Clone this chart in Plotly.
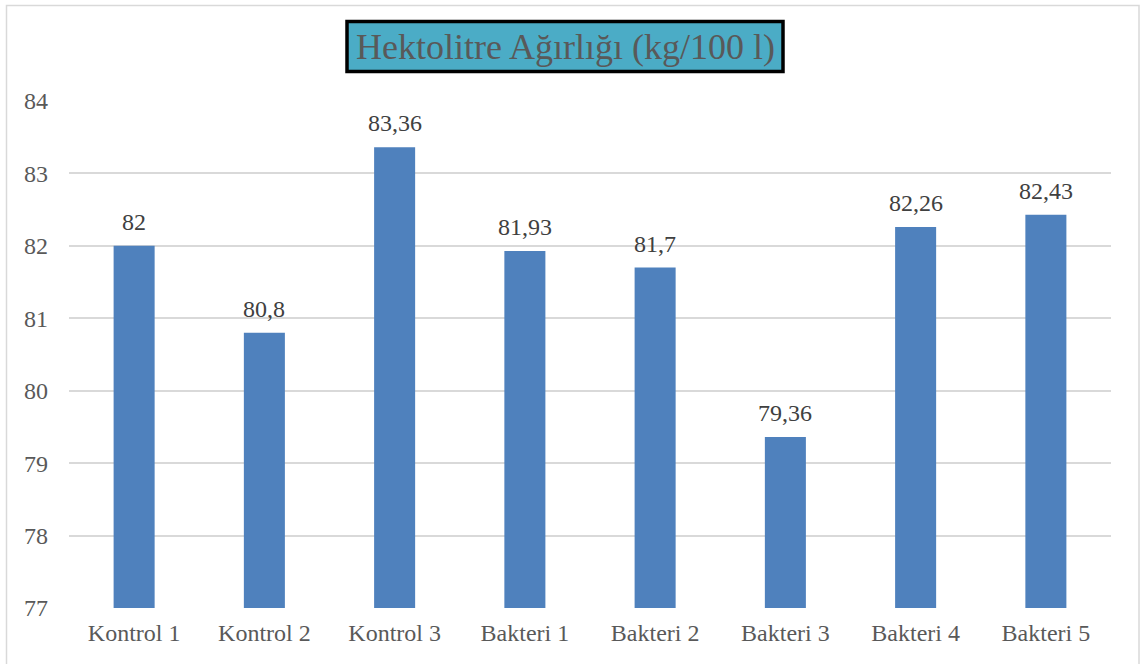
import plotly.graph_objects as go

# Hectolitre weight per sample
categories = ["Kontrol 1", "Kontrol 2", "Kontrol 3", "Bakteri 1",
              "Bakteri 2", "Bakteri 3", "Bakteri 4", "Bakteri 5"]
values = [82, 80.8, 83.36, 81.93, 81.7, 79.36, 82.26, 82.43]
y_ticks = [77, 78, 79, 80, 81, 82, 83, 84]
title_text = "Hektolitre Ağırlığı (kg/100 l)"

SERIF = "Liberation Serif"
labels = [f"{v:g}".replace(".", ",") for v in values]

W, H = 1141, 664
L, R, T, B = 69, 30, 101, 56
pw, ph = W - L - R, H - T - B


def px_x(p):
    return (p - L) / pw


def px_y(p):
    return 1 + (T - p) / ph


fig = go.Figure(go.Bar(
    x=categories, y=values,
    marker=dict(color="#4F81BD", line=dict(width=0)),
    width=0.315,
    hoverinfo="x+y",
))

for c, v, t in zip(categories, values, labels):
    fig.add_annotation(
        x=c, y=v, text=t, showarrow=False,
        yanchor="bottom", yshift=9,
        font=dict(family=SERIF, size=24, color="#404040"),
    )

# Title box
fig.add_shape(type="rect", xref="paper", yref="paper",
              x0=px_x(347), x1=px_x(783), y0=px_y(71.5), y1=px_y(21.5),
              fillcolor="#4BACC6", line=dict(color="#000000", width=3.5),
              layer="above")
fig.add_annotation(xref="paper", yref="paper", x=px_x(565), y=px_y(47),
                   text=title_text, showarrow=False,
                   xanchor="center", yanchor="middle",
                   font=dict(family=SERIF, size=36, color="#595959"))

# Chart frame
fig.add_shape(type="rect", xref="paper", yref="paper",
              x0=px_x(6.5), x1=px_x(1139), y0=px_y(680), y1=px_y(5.5),
              fillcolor="rgba(0,0,0,0)", line=dict(color="#D9D9D9", width=1.5),
              layer="below")

fig.update_layout(
    width=W, height=H,
    margin=dict(l=L, r=R, t=T, b=B),
    paper_bgcolor="white", plot_bgcolor="white",
    showlegend=False,
    font=dict(family=SERIF),
    xaxis=dict(
        showgrid=False, showline=False, zeroline=False,
        ticks="", tickfont=dict(family=SERIF, size=24, color="#595959"),
        ticklabelstandoff=8,
    ),
    yaxis=dict(
        range=[77, 84], tickvals=y_ticks,
        showgrid=True, gridcolor="#D9D9D9", gridwidth=1.5,
        zeroline=False, showline=False, ticks="",
        tickfont=dict(family=SERIF, size=24, color="#595959"),
        ticklabelstandoff=20,
    ),
)

fig.write_html("out.html")
